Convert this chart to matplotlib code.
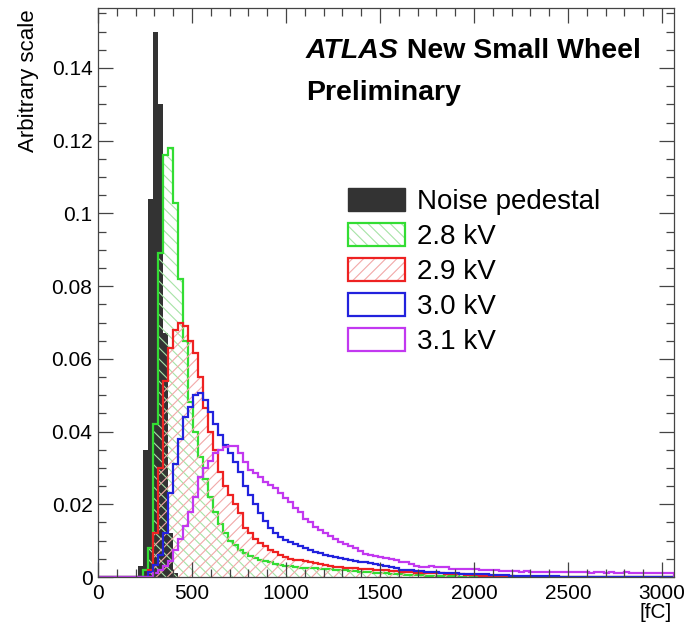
import numpy as np
import matplotlib
matplotlib.use('Agg')
import matplotlib.pyplot as plt
from matplotlib.patches import Patch
from matplotlib.ticker import MultipleLocator, FuncFormatter

plt.rcParams['font.family'] = ['Liberation Sans', 'DejaVu Sans']
plt.rcParams['hatch.linewidth'] = 0.8

# Binning: 115 bins of ~26.6 fC from 0 to 3064 fC
n_bins = 115
x_max = 3064
edges = np.linspace(0, x_max, n_bins + 1)

# Bin contents; each list starts at the given bin index
noise_start = 8
noise_vals = [0.003, 0.035, 0.104, 0.150, 0.130, 0.067, 0.012, 0.001]

kv28_start = 9
kv28_vals = [0.002, 0.008, 0.042, 0.089, 0.116, 0.118, 0.103, 0.082, 0.065, 0.048,
             0.040, 0.033, 0.027, 0.022, 0.018, 0.0145, 0.012, 0.010, 0.0088, 0.0075,
             0.0065, 0.0058, 0.0052, 0.0048, 0.0044, 0.0041, 0.0037, 0.0034, 0.0031, 0.0029,
             0.0027, 0.0026, 0.0025, 0.0025, 0.0024, 0.0023, 0.0022, 0.0021, 0.0020, 0.0019,
             0.0018, 0.0017, 0.0016, 0.0015, 0.0014, 0.0013, 0.0012, 0.0011, 0.0010, 0.0009,
             0.0008, 0.0007, 0.0006, 0.0006, 0.0005, 0.0005, 0.0004, 0.0004, 0.0003, 0.0003,
             0.0002, 0.0002, 0.0002, 0.0001, 0.0001]

kv29_start = 10
kv29_vals = [0.002, 0.012, 0.030, 0.054, 0.063, 0.068, 0.070, 0.069, 0.065, 0.0616,
             0.055, 0.0465, 0.040, 0.035, 0.029, 0.025, 0.0225, 0.020, 0.0175, 0.0135,
             0.012, 0.0105, 0.0094, 0.0085, 0.0075, 0.0068, 0.0060, 0.0055, 0.0050, 0.0048,
             0.0046, 0.0044, 0.0041, 0.0038, 0.0035, 0.0033, 0.0030, 0.0028, 0.0027, 0.0026,
             0.0025, 0.0024, 0.0023, 0.0022, 0.0021, 0.0020, 0.0019, 0.0018, 0.0017, 0.0016,
             0.0015, 0.0014, 0.0013, 0.0012, 0.0012, 0.0011, 0.0011, 0.0010, 0.0010, 0.0009,
             0.0009, 0.0008, 0.0007, 0.0006, 0.0005, 0.0005, 0.0004, 0.0004, 0.0003, 0.0003,
             0.0002, 0.0002, 0.0002, 0.0001, 0.0001]

kv30_start = 10
kv30_vals = [0.0014, 0.0033, 0.006, 0.012, 0.023, 0.031, 0.038, 0.044, 0.0468, 0.050,
             0.0506, 0.0487, 0.0455, 0.042, 0.039, 0.0363, 0.034, 0.0316, 0.029, 0.025,
             0.0225, 0.020, 0.0175, 0.0155, 0.0135, 0.012, 0.011, 0.0102, 0.0095, 0.0090,
             0.0086, 0.0080, 0.0074, 0.0069, 0.0065, 0.0061, 0.0058, 0.0055, 0.0052, 0.0050,
             0.0047, 0.0045, 0.0042, 0.0040, 0.0038, 0.0035, 0.0032, 0.0030, 0.0028, 0.0026,
             0.0020, 0.0019, 0.0018, 0.0017, 0.0016, 0.0015, 0.0014, 0.0013, 0.0012, 0.0011,
             0.0010, 0.0010, 0.0009, 0.0009, 0.0008, 0.0008, 0.0007, 0.0007, 0.0006, 0.0006,
             0.0005, 0.0005, 0.0004, 0.0004, 0.0004, 0.0003, 0.0003, 0.0003, 0.0002, 0.0002,
             0.0002, 0.0002, 0.0001, 0.0001]

kv31_start = 11
kv31_vals = [0.001, 0.002, 0.003, 0.0045, 0.0075, 0.0105, 0.014, 0.018, 0.022, 0.0275,
             0.030, 0.032, 0.034, 0.035, 0.0358, 0.036, 0.036, 0.034, 0.0316, 0.0294,
             0.0286, 0.0275, 0.026, 0.0253, 0.0245, 0.023, 0.0218, 0.0205, 0.019, 0.0178,
             0.016, 0.015, 0.0138, 0.013, 0.012, 0.0112, 0.0104, 0.0096, 0.0090, 0.0084,
             0.0080, 0.0072, 0.0064, 0.0060, 0.0057, 0.0054, 0.0052, 0.0050, 0.0046, 0.0042,
             0.0040, 0.0035, 0.0031, 0.0028, 0.0028, 0.0029, 0.0028, 0.0027, 0.0028, 0.0022,
             0.0022, 0.0023, 0.0022, 0.0021, 0.0022, 0.0019, 0.0019, 0.0020, 0.0019, 0.0016,
             0.0016, 0.0017, 0.0016, 0.0015, 0.0016, 0.0014, 0.0014, 0.0015, 0.0014, 0.0014,
             0.0013, 0.0014, 0.0014, 0.0013, 0.0014, 0.0013, 0.0013, 0.0012, 0.0013, 0.0013,
             0.0012, 0.0013, 0.0012, 0.0012, 0.0013, 0.0012, 0.0012, 0.0011, 0.0012, 0.0012,
             0.0011, 0.0012, 0.0011, 0.0011]


def fill_bins(start, vals):
    h = np.zeros(n_bins)
    h[start:start + len(vals)] = vals
    return h


noise = fill_bins(noise_start, noise_vals)
kv28 = fill_bins(kv28_start, kv28_vals)
kv29 = fill_bins(kv29_start, kv29_vals)
kv30 = fill_bins(kv30_start, kv30_vals)
kv31 = fill_bins(kv31_start, kv31_vals)

dark = '#333333'
green, green_hatch = '#33dd33', '#a6e3a6'
red, red_hatch = '#ee2222', '#f2a8a8'
blue = '#2222dd'
purple = '#c238f0'
lw = 1.6

fig = plt.figure(figsize=(6.88, 6.30), dpi=100)
ax = fig.add_axes([0.1424, 0.0841, 0.8373, 0.9032])

# Noise pedestal (solid fill)
ax.stairs(noise, edges, fill=True, color=dark, linewidth=0)

# 2.8 kV: hatched fill + outline
ax.stairs(kv28, edges, fill=True, facecolor='none', edgecolor=green_hatch,
          hatch='\\\\\\', linewidth=0)
ax.stairs(kv28, edges, color=green, linewidth=lw, baseline=0)

# 2.9 kV: hatched fill + outline
ax.stairs(kv29, edges, fill=True, facecolor='none', edgecolor=red_hatch,
          hatch='///', linewidth=0)
ax.stairs(kv29, edges, color=red, linewidth=lw, baseline=0)

ax.stairs(kv30, edges, color=blue, linewidth=lw, baseline=0)
ax.stairs(kv31, edges, color=purple, linewidth=lw, baseline=0)

ax.set_xlim(0, x_max)
ax.set_ylim(0, 0.1565)

# ROOT-like axes: ticks inside on all four sides
ax.xaxis.set_major_locator(MultipleLocator(500))
ax.xaxis.set_minor_locator(MultipleLocator(100))
ax.yaxis.set_major_locator(MultipleLocator(0.02))
ax.yaxis.set_minor_locator(MultipleLocator(0.005))
ax.yaxis.set_major_formatter(FuncFormatter(lambda v, p: f'{v:g}'))
ax.tick_params(which='both', direction='in', top=True, right=True,
               color='#444444', width=0.9, labelsize=15)
ax.tick_params(which='major', length=11)
ax.tick_params(which='minor', length=5.5)
ax.tick_params(axis='x', pad=5)
ax.tick_params(axis='y', pad=4)
for s in ax.spines.values():
    s.set_color('#444444')
    s.set_linewidth(0.9)

fig.text(0.041, 0.985, 'Arbitrary scale', rotation=90, ha='center', va='top',
         fontsize=16)
fig.text(0.977, 0.012, '[fC]', ha='right', va='bottom', fontsize=15)

# ATLAS label
t = ax.text(0.361, 0.912, 'ATLAS', transform=ax.transAxes, fontsize=20.5,
            fontweight='bold', fontstyle='italic', va='baseline')
ax.annotate(' New Small Wheel', xy=(1, 0), xycoords=t, fontsize=20.5,
            fontweight='bold', va='bottom', ha='left')
ax.text(0.361, 0.838, 'Preliminary', transform=ax.transAxes, fontsize=20.5,
        fontweight='bold', va='baseline')

# Legend
handles = [
    Patch(facecolor=dark, edgecolor=dark),
    (Patch(facecolor='none', edgecolor=green_hatch, hatch='\\\\\\', linewidth=0),
     Patch(facecolor='none', edgecolor=green, linewidth=lw)),
    (Patch(facecolor='none', edgecolor=red_hatch, hatch='///', linewidth=0),
     Patch(facecolor='none', edgecolor=red, linewidth=lw)),
    Patch(facecolor='none', edgecolor=blue, linewidth=lw),
    Patch(facecolor='none', edgecolor=purple, linewidth=lw),
]
labels = ['Noise pedestal', '2.8 kV', '2.9 kV', '3.0 kV', '3.1 kV']
ax.legend(handles, labels, loc='upper left', bbox_to_anchor=(0.434, 0.683),
          frameon=False, fontsize=20, handlelength=2.05, handleheight=0.9,
          handletextpad=0.45, labelspacing=0.28, borderpad=0, borderaxespad=0)

fig.savefig('out.png', dpi=100)
